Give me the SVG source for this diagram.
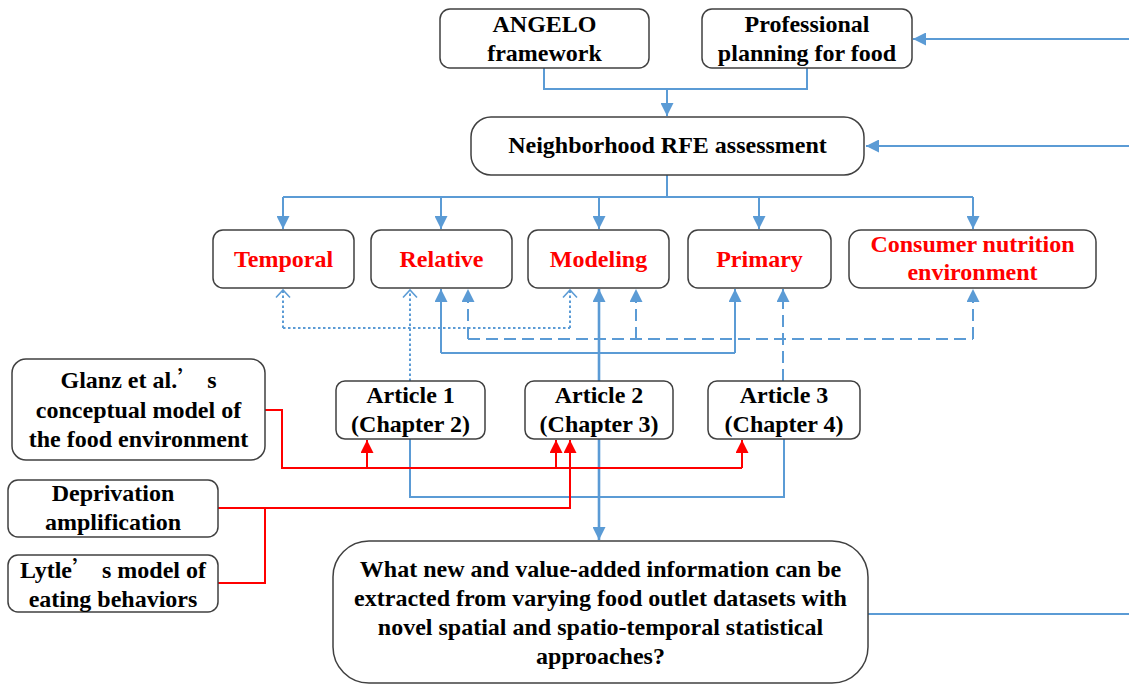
<svg xmlns="http://www.w3.org/2000/svg" width="1129" height="685" viewBox="0 0 1129 685">
  <defs>
    <style>
      .box { fill: #ffffff; stroke: #404040; stroke-width: 1.5; }
      .t { font-family: "Liberation Serif", "Times New Roman", serif; font-weight: bold; font-size: 24px; fill: #000000; text-anchor: middle; }
      .q { font-family: "Noto Sans CJK SC", "Liberation Serif", sans-serif; font-weight: normal; }
      .red { fill: #ff0000; }
      .b { fill: none; stroke: #5b9bd5; stroke-width: 2; }
      .bt { fill: none; stroke: #5b9bd5; stroke-width: 2.6; }
      .dot { fill: none; stroke: #5b9bd5; stroke-width: 2; stroke-dasharray: 2.5 2.5; }
      .dash { fill: none; stroke: #5b9bd5; stroke-width: 2; stroke-dasharray: 12 6; }
      .r { fill: none; stroke: #ff0000; stroke-width: 2; }
    </style>
    <marker id="arrBlue" viewBox="0 0 13 13" refX="13" refY="6.5" markerWidth="13" markerHeight="13" markerUnits="userSpaceOnUse" orient="auto">
      <path d="M0,0 L13,6.5 L0,13 z" fill="#5b9bd5"/>
    </marker>
    <marker id="arrRed" viewBox="0 0 13 13" refX="13" refY="6.5" markerWidth="13" markerHeight="13" markerUnits="userSpaceOnUse" orient="auto">
      <path d="M0,0 L13,6.5 L0,13 z" fill="#ff0000"/>
    </marker>
    <marker id="arrOpen" viewBox="0 0 10 16" refX="8.5" refY="8" markerWidth="10" markerHeight="16" markerUnits="userSpaceOnUse" orient="auto">
      <path d="M1,1 L8.5,8 L1,15" fill="none" stroke="#5b9bd5" stroke-width="1.6"/>
    </marker>
  </defs>

  <!-- connectors -->
  <g id="connectors">
    <!-- top inputs into the assessment -->
    <path class="b" d="M544,68 V89 H807 V68"/>
    <path class="b" d="M667,89 V116" marker-end="url(#arrBlue)"/>
    <path class="b" d="M1129,39 H913" marker-end="url(#arrBlue)"/>
    <path class="b" d="M1129,146 H866" marker-end="url(#arrBlue)"/>
    <!-- assessment fan-out -->
    <path class="b" d="M667,175 V197 M283,197 H973"/>
    <path class="b" d="M283,197 V229" marker-end="url(#arrBlue)"/>
    <path class="b" d="M441,197 V229" marker-end="url(#arrBlue)"/>
    <path class="b" d="M599,197 V229" marker-end="url(#arrBlue)"/>
    <path class="b" d="M759,197 V229" marker-end="url(#arrBlue)"/>
    <path class="b" d="M973,197 V229" marker-end="url(#arrBlue)"/>

    <!-- Article 1 (dotted) -->
    <path class="dot" d="M410,381 V290" marker-end="url(#arrOpen)"/>
    <path class="dot" d="M283,328 H570"/>
    <path class="dot" d="M283,328 V290" marker-end="url(#arrOpen)"/>
    <path class="dot" d="M570,328 V290" marker-end="url(#arrOpen)"/>

    <!-- Article 2 (solid) -->
    <path class="bt" d="M599,381 V289" marker-end="url(#arrBlue)"/>
    <path class="b" d="M441,353 H735"/>
    <path class="b" d="M441,353 V289" marker-end="url(#arrBlue)"/>
    <path class="b" d="M735,353 V289" marker-end="url(#arrBlue)"/>

    <!-- Article 3 (dashed) -->
    <path class="dash" d="M783,381 V289" marker-end="url(#arrBlue)"/>
    <path class="dash" d="M468,339 H973"/>
    <path class="dash" d="M468,339 V289" marker-end="url(#arrBlue)"/>
    <path class="dash" d="M636,339 V289" marker-end="url(#arrBlue)"/>
    <path class="dash" d="M973,339 V289" marker-end="url(#arrBlue)"/>

    <!-- articles to research question -->
    <path class="b" d="M410,439 V497 H784 V439"/>
    <path class="bt" d="M599,439 V540" marker-end="url(#arrBlue)"/>
    <path class="b" d="M868,614 H1129"/>

    <!-- theory links (red) -->
    <path class="r" d="M265,410 H282 V468 H742"/>
    <path class="r" d="M367,468 V440" marker-end="url(#arrRed)"/>
    <path class="r" d="M556,468 V440" marker-end="url(#arrRed)"/>
    <path class="r" d="M742,468 V440" marker-end="url(#arrRed)"/>
    <path class="r" d="M218,508 H570 V440" marker-end="url(#arrRed)"/>
    <path class="r" d="M218,583 H265 V508"/>
  </g>

  <!-- nodes -->
  <g id="angelo">
    <rect class="box" x="440" y="9" width="209" height="59" rx="10"/>
    <text class="t" x="544.5" y="32">ANGELO</text>
    <text class="t" x="544.5" y="61">framework</text>
  </g>
  <g id="professional">
    <rect class="box" x="702" y="9" width="210" height="59" rx="10"/>
    <text class="t" x="807" y="32">Professional</text>
    <text class="t" x="807" y="61">planning for food</text>
  </g>
  <g id="assessment">
    <rect class="box" x="471" y="117" width="393" height="58" rx="20"/>
    <text class="t" x="667.5" y="153">Neighborhood RFE assessment</text>
  </g>

  <g id="temporal">
    <rect class="box" x="213" y="230" width="141" height="58" rx="10"/>
    <text class="t red" x="283.5" y="267">Temporal</text>
  </g>
  <g id="relative">
    <rect class="box" x="371" y="230" width="141" height="58" rx="10"/>
    <text class="t red" x="441.5" y="267">Relative</text>
  </g>
  <g id="modeling">
    <rect class="box" x="528" y="230" width="141" height="58" rx="10"/>
    <text class="t red" x="598.5" y="267">Modeling</text>
  </g>
  <g id="primary">
    <rect class="box" x="688" y="230" width="143" height="58" rx="10"/>
    <text class="t red" x="759.5" y="267">Primary</text>
  </g>
  <g id="consumer">
    <rect class="box" x="849" y="230" width="247" height="58" rx="12"/>
    <text class="t red" x="972.5" y="252">Consumer nutrition</text>
    <text class="t red" x="972.5" y="280">environment</text>
  </g>

  <g id="article1">
    <rect class="box" x="336" y="381" width="149" height="58" rx="9"/>
    <text class="t" x="410.5" y="403">Article 1</text>
    <text class="t" x="410.5" y="432">(Chapter 2)</text>
  </g>
  <g id="article2">
    <rect class="box" x="525" y="381" width="148" height="58" rx="9"/>
    <text class="t" x="599" y="403">Article 2</text>
    <text class="t" x="599" y="432">(Chapter 3)</text>
  </g>
  <g id="article3">
    <rect class="box" x="708" y="381" width="152" height="58" rx="9"/>
    <text class="t" x="784" y="403">Article 3</text>
    <text class="t" x="784" y="432">(Chapter 4)</text>
  </g>

  <g id="glanz">
    <rect class="box" x="12" y="359" width="253" height="101" rx="14"/>
    <text class="t" x="138.5" y="388">Glanz et al.<tspan class="q">’</tspan> s</text>
    <text class="t" x="138.5" y="418">conceptual model of</text>
    <text class="t" x="138.5" y="447">the food environment</text>
  </g>
  <g id="deprivation">
    <rect class="box" x="8" y="480" width="210" height="57" rx="10"/>
    <text class="t" x="113" y="501">Deprivation</text>
    <text class="t" x="113" y="530">amplification</text>
  </g>
  <g id="lytle">
    <rect class="box" x="8" y="555" width="210" height="57" rx="10"/>
    <text class="t" x="113" y="578">Lytle<tspan class="q">’</tspan> s model of</text>
    <text class="t" x="113" y="607">eating behaviors</text>
  </g>

  <g id="question">
    <rect class="box" x="333" y="541" width="535" height="142" rx="36"/>
    <text class="t" x="600.5" y="577">What new and value-added information can be</text>
    <text class="t" x="600.5" y="606">extracted from varying food outlet datasets with</text>
    <text class="t" x="600.5" y="635">novel spatial and spatio-temporal statistical</text>
    <text class="t" x="600.5" y="664">approaches?</text>
  </g>
</svg>
